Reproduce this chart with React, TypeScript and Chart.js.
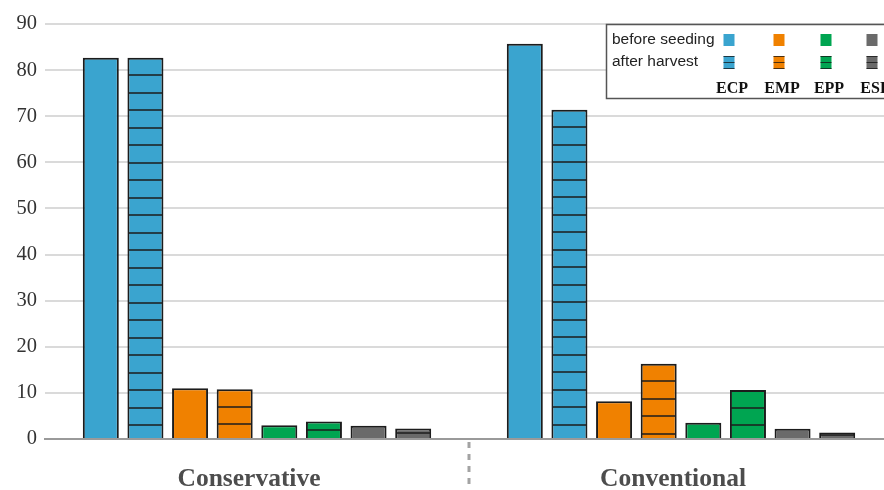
import React, { useEffect, useRef } from "react";
import { Chart, registerables } from "chart.js";

Chart.register(...registerables);

// Tillage systems on the x axis
const categories = ["Conservative", "Conventional"];

// Series: before seeding / after harvest for each extract
const ecpBefore = [82.7, 85.7];
const ecpAfter = [82.7, 71.4];
const empBefore = [11.0, 8.2];
const empAfter = [10.8, 16.3];
const eppBefore = [3.0, 3.5];
const eppAfter = [3.8, 10.6];
const espBefore = [2.9, 2.2];
const espAfter = [2.3, 1.4];

const extractNames = ["ECP", "EMP", "EPP", "ESP"];
const extractColors = ["#3aa4cf", "#f08100", "#00a551", "#6a6a6a"];
const periodNames = ["before seeding", "after harvest"];

const yTicks = [0, 10, 20, 30, 40, 50, 60, 70, 80, 90];

const BORDER = "#1c1c1c";
const HATCH_STEP = 17.5;

// Horizontal-line fill for the "after harvest" bars
const hatchPlugin = {
  id: "hatch",
  afterDatasetsDraw(chart: any) {
    const ctx = chart.ctx;
    chart.data.datasets.forEach((ds: any, i: number) => {
      if (!ds.hatched) return;
      const meta = chart.getDatasetMeta(i);
      meta.data.forEach((bar: any) => {
        const { x, y, base, width } = bar.getProps(["x", "y", "base", "width"], true);
        const left = x - width / 2 + 1;
        const right = x + width / 2 - 1;
        const h = base - y;
        ctx.save();
        ctx.strokeStyle = BORDER;
        ctx.lineWidth = 1.6;
        ctx.beginPath();
        if (h < HATCH_STEP + 3) {
          const yy = Math.round(y + h / 2);
          ctx.moveTo(left, yy);
          ctx.lineTo(right, yy);
        } else {
          for (let yy = y + HATCH_STEP; yy < base - 3; yy += HATCH_STEP) {
            const py = Math.round(yy);
            ctx.moveTo(left, py);
            ctx.lineTo(right, py);
          }
        }
        ctx.stroke();
        ctx.restore();
      });
    });
  },
};

// Dashed separator between the two groups + custom legend box
const decorPlugin = {
  id: "decor",
  afterDraw(chart: any) {
    const ctx = chart.ctx;
    const area = chart.chartArea;
    const xs = chart.scales.x;
    const mid = (xs.getPixelForValue(0) + xs.getPixelForValue(1)) / 2;

    ctx.save();
    ctx.strokeStyle = "#a3a3a3";
    ctx.lineWidth = 3;
    ctx.setLineDash([6, 6]);
    ctx.beginPath();
    ctx.moveTo(mid, area.bottom + 3);
    ctx.lineTo(mid, chart.height);
    ctx.stroke();
    ctx.restore();

    // legend box
    const bx = 606.5;
    const by = 24.5;
    const bh = 74;
    ctx.save();
    ctx.fillStyle = "#ffffff";
    ctx.fillRect(bx, by, chart.width - bx + 10, bh);
    ctx.strokeStyle = "#555555";
    ctx.lineWidth = 1.5;
    ctx.strokeRect(bx, by, chart.width - bx + 10, bh);

    ctx.fillStyle = "#222222";
    ctx.font = "15.5px 'Liberation Sans', Arial, sans-serif";
    ctx.textBaseline = "middle";
    ctx.textAlign = "left";
    ctx.fillText(periodNames[0], 612, 40);
    ctx.fillText(periodNames[1], 612, 62);

    const colX = [729, 779, 826, 872];
    extractColors.forEach((c, i) => {
      const cx = colX[i];
      // before seeding swatch
      ctx.fillStyle = c;
      ctx.fillRect(cx - 5.5, 34, 11, 12);
      // after harvest swatch
      ctx.fillRect(cx - 5.5, 56, 11, 13);
      ctx.strokeStyle = "rgba(20,20,20,0.75)";
      ctx.lineWidth = 1;
      ctx.beginPath();
      ctx.moveTo(cx - 5.5, 56.5);
      ctx.lineTo(cx + 5.5, 56.5);
      ctx.moveTo(cx - 5.5, 62.5);
      ctx.lineTo(cx + 5.5, 62.5);
      ctx.moveTo(cx - 5.5, 68.5);
      ctx.lineTo(cx + 5.5, 68.5);
      ctx.stroke();

      ctx.fillStyle = "#111111";
      ctx.font = "bold 16px 'Liberation Serif', 'Times New Roman', serif";
      ctx.textAlign = "center";
      ctx.fillText(extractNames[i], cx + 3, 89);
    });
    ctx.restore();
  },
};

function makeDataset(label: string, data: number[], color: string, hatched: boolean) {
  return {
    label,
    data,
    backgroundColor: color,
    borderColor: BORDER,
    borderWidth: 2,
    hatched,
    categoryPercentage: 0.842,
    barPercentage: 0.807,
  };
}

export default function App() {
  const canvasRef = useRef<HTMLCanvasElement | null>(null);

  useEffect(() => {
    const canvas = canvasRef.current;
    if (!canvas) return;
    const chart = new Chart(canvas, {
      type: "bar",
      data: {
        labels: categories,
        datasets: [
          makeDataset("ECP before seeding", ecpBefore, extractColors[0], false),
          makeDataset("ECP after harvest", ecpAfter, extractColors[0], true),
          makeDataset("EMP before seeding", empBefore, extractColors[1], false),
          makeDataset("EMP after harvest", empAfter, extractColors[1], true),
          makeDataset("EPP before seeding", eppBefore, extractColors[2], false),
          makeDataset("EPP after harvest", eppAfter, extractColors[2], true),
          makeDataset("ESP before seeding", espBefore, extractColors[3], false),
          makeDataset("ESP after harvest", espAfter, extractColors[3], true),
        ] as any,
      },
      options: {
        responsive: false,
        animation: false,
        devicePixelRatio: 1,
        layout: { padding: { top: 24, right: 7, left: 0, bottom: 0 } },
        plugins: {
          legend: { display: false },
          tooltip: { enabled: false },
        },
        scales: {
          x: {
            grid: { display: false },
            border: { display: true, color: "#9a9a9a", width: 2 },
            ticks: {
              color: "#4d4d4d",
              padding: 17,
              labelOffset: -8,
              font: { family: "'Liberation Serif', 'Times New Roman', serif", size: 25.5, weight: "bold" },
            },
            afterFit(scale: any) {
              scale.height = 51;
            },
          },
          y: {
            min: 0,
            max: 90,
            afterBuildTicks(scale: any) {
              scale.ticks = yTicks.map((v) => ({ value: v }));
            },
            grid: {
              drawTicks: false,
              lineWidth: 2,
              color: (c: any) => (c.tick && c.tick.value === 0 ? "#9a9a9a" : "#dadada"),
            },
            border: { display: false },
            ticks: {
              color: "#333333",
              padding: 8,
              font: { family: "'Liberation Serif', 'Times New Roman', serif", size: 20.5 },
            },
            afterFit(scale: any) {
              scale.width = 45;
            },
          },
        },
      },
      plugins: [hatchPlugin, decorPlugin],
    });
    return () => chart.destroy();
  }, []);

  return (
    <div
      style={{
        position: "fixed",
        left: 0,
        top: 0,
        width: 884,
        height: 490,
        overflow: "hidden",
        background: "#ffffff",
      }}
    >
      <canvas ref={canvasRef} width={900} height={490} style={{ display: "block" }} />
    </div>
  );
}
